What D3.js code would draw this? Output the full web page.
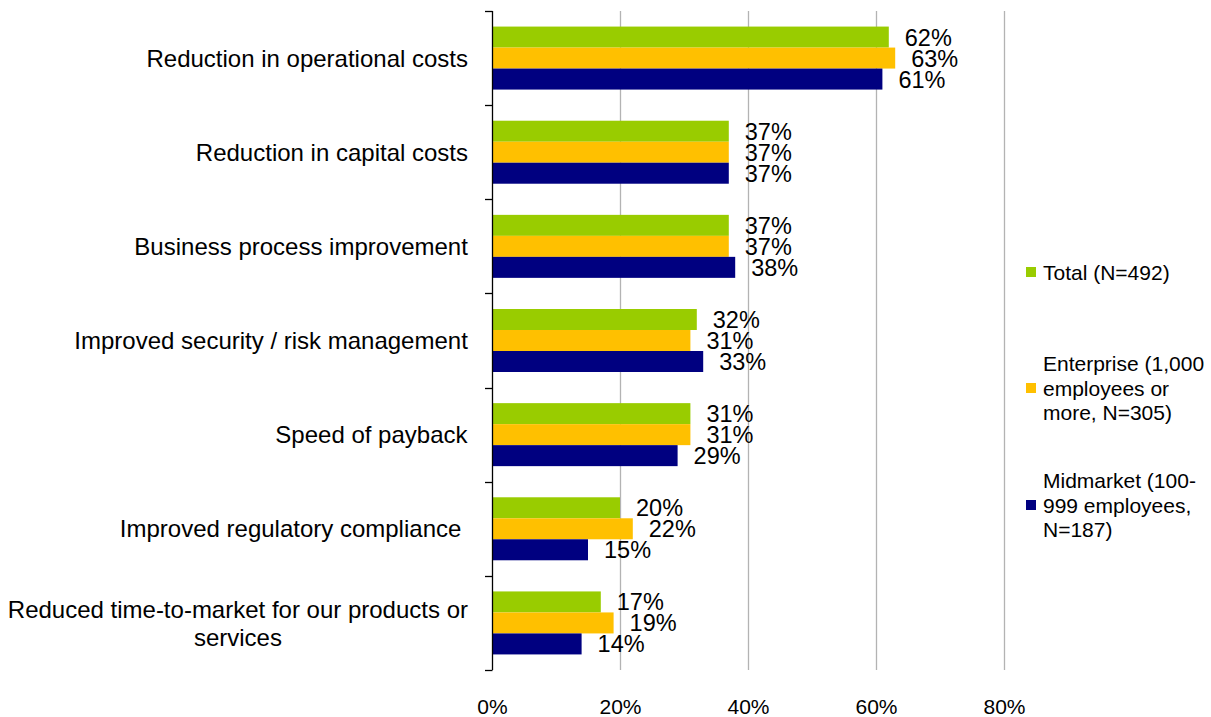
<!DOCTYPE html>
<html>
<head>
<meta charset="utf-8">
<script src="https://cdn.jsdelivr.net/npm/d3@7"></script>
<style>
  body { margin: 0; background: #fff; }
  svg { font-family: "Liberation Sans", Arial, sans-serif; }
</style>
</head>
<body>
<svg></svg>
<script>
const categories = [
    "Reduction in operational costs",
    "Reduction in capital costs",
    "Business process improvement",
    "Improved security / risk management",
    "Speed of payback",
    "Improved regulatory compliance ",
    "Reduced time-to-market for our products or services"
];
const seriesNames = ["Total", "Enterprise", "Midmarket"];
const totalValues = [62, 37, 37, 32, 31, 20, 17];
const enterpriseValues = [63, 37, 37, 31, 31, 22, 19];
const midmarketValues = [61, 37, 38, 33, 29, 15, 14];
const xTicks = [0, 20, 40, 60, 80];
const legendLabels = [
    ["Total (N=492)"],
    ["Enterprise (1,000", "employees or", "more, N=305)"],
    ["Midmarket (100-", "999 employees,", "N=187)"]
];

const svgWidth = 1211;
const svgHeight = 717;

const svg = d3.select("svg")
    .attr("width", svgWidth)
    .attr("height", svgHeight);

const color = d3.scaleOrdinal(seriesNames, ["#99cc00", "#ffc000", "#000080"]);

const x = d3.scaleLinear().domain([0, 80]).range([492, 1004]);
const y = d3.scaleBand().domain(categories).range([11, 670]);
const bw = y.bandwidth();
const barH = 21;
const ySub = d3.scaleBand().domain(seriesNames)
    .range([(bw - 3 * barH) / 2, (bw + 3 * barH) / 2]);

const rows = categories.map((c, i) => ({
    category: c,
    values: [totalValues[i], enterpriseValues[i], midmarketValues[i]]
}));

// gridlines
svg.append("g")
    .selectAll("line")
    .data(xTicks.filter(d => d > 0))
    .enter().append("line")
    .attr("x1", d => x(d) + 0.5)
    .attr("x2", d => x(d) + 0.5)
    .attr("y1", y.range()[0])
    .attr("y2", y.range()[1])
    .attr("stroke", "#b3b3b3")
    .attr("stroke-width", 1.3);

// bars
const group = svg.append("g").selectAll(".grp")
    .data(rows)
    .enter().append("g")
    .attr("class", "grp")
    .attr("transform", d => "translate(0," + y(d.category) + ")");

group.selectAll("rect")
    .data(d => d.values.map((v, j) => ({ name: seriesNames[j], value: v })))
    .enter().append("rect")
    .attr("x", x(0))
    .attr("y", d => ySub(d.name))
    .attr("width", d => x(d.value) - x(0))
    .attr("height", ySub.bandwidth())
    .attr("fill", d => color(d.name));

group.selectAll("text.val")
    .data(d => d.values.map((v, j) => ({ name: seriesNames[j], value: v })))
    .enter().append("text")
    .attr("class", "val")
    .attr("x", d => x(d.value) + 16)
    .attr("y", d => ySub(d.name) + ySub.bandwidth() / 2)
    .attr("dy", "0.36em")
    .attr("font-size", "23.5px")
    .attr("fill", "#000")
    .text(d => d.value + "%");

// category axis line and ticks
const yAxis = svg.append("g");
yAxis.append("line")
    .attr("x1", x(0) + 0.5).attr("x2", x(0) + 0.5)
    .attr("y1", y.range()[0]).attr("y2", y.range()[1])
    .attr("stroke", "#000").attr("stroke-width", 1.3);
yAxis.selectAll(".tk")
    .data(categories.map(c => y(c)).concat([y.range()[1]]))
    .enter().append("line")
    .attr("class", "tk")
    .attr("x1", x(0) - 7).attr("x2", x(0) + 0.5)
    .attr("y1", d => Math.round(d) + 0.5).attr("y2", d => Math.round(d) + 0.5)
    .attr("stroke", "#000").attr("stroke-width", 1.3);

// category labels (block right-aligned, lines centred within it)
const catLabels = svg.append("g").selectAll("text")
    .data(categories)
    .enter().append("text")
    .attr("font-size", "24px")
    .attr("fill", "#000")
    .attr("text-anchor", "middle")
    .style("white-space", "pre");

catLabels.each(function(c) {
    const t = d3.select(this);
    const lines = c.startsWith("Reduced time") ?
        ["Reduced time-to-market for our products or", "services"] : [c];
    const cy = y(c) + bw / 2;
    const lh = 28;
    lines.forEach((l, k) => {
        t.append("tspan")
            .attr("x", 0)
            .attr("y", cy + (k - (lines.length - 1) / 2) * lh)
            .attr("dy", "0.36em")
            .text(l);
    });
    const w = this.getBBox().width;
    t.selectAll("tspan").attr("x", 468 - w / 2);
});

// x axis labels
const xAxis = svg.append("g")
    .attr("transform", "translate(0,696)")
    .call(d3.axisBottom(x).tickValues(xTicks).tickFormat(d => d + "%").tickSize(0));
xAxis.select(".domain").remove();
xAxis.selectAll("text")
    .attr("font-family", "Liberation Sans, Arial, sans-serif")
    .attr("font-size", "21px")
    .attr("fill", "#000")
    .attr("dy", "0.71em")
    .attr("y", 3);

// legend
const legendY = [272, 388, 505];
const legend = svg.append("g").selectAll(".lg")
    .data(seriesNames)
    .enter().append("g")
    .attr("class", "lg")
    .attr("transform", (d, i) => "translate(1026," + legendY[i] + ")");

legend.append("rect")
    .attr("x", 0).attr("y", -5)
    .attr("width", 10).attr("height", 10)
    .attr("fill", d => color(d));

legend.append("text")
    .attr("font-size", "21px")
    .attr("fill", "#000")
    .each(function(d, i) {
        const lines = legendLabels[i];
        lines.forEach((l, k) => {
            d3.select(this).append("tspan")
                .attr("x", 17)
                .attr("y", (k - (lines.length - 1) / 2) * 24.5)
                .attr("dy", "0.36em")
                .text(l);
        });
    });
</script>
</body>
</html>
